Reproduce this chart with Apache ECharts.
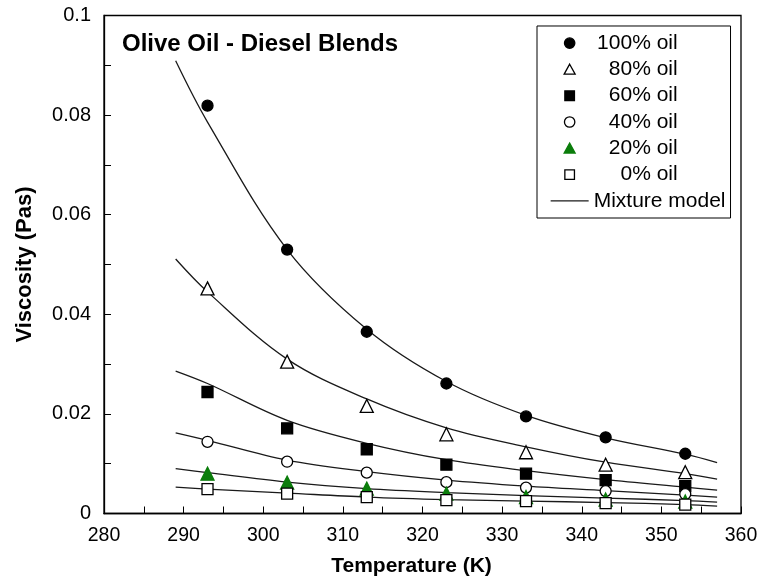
<!DOCTYPE html>
<html>
<head>
<meta charset="utf-8">
<script src="https://cdn.jsdelivr.net/npm/echarts@6/dist/echarts.min.js"></script>
<style>
  html, body { margin: 0; padding: 0; background: #fff; }
  #container { width: 764px; height: 581px; }
</style>
</head>
<body>
<div id="container"></div>
<script>
// measured points (K, Pa s)
var temps = [293, 303, 313, 323, 333, 343, 353];
var oil100 = [0.0819, 0.0530, 0.0365, 0.0261, 0.0195, 0.0153, 0.0120];
var oil80 = [0.0452, 0.0305, 0.0216, 0.0159, 0.0123, 0.0098, 0.0083];
var oil60 = [0.0244, 0.0171, 0.0129, 0.0098, 0.0080, 0.0067, 0.0055];
var oil40 = [0.0144, 0.0104, 0.0082, 0.0063, 0.0052, 0.0045, 0.0039];
var oil20 = [0.0080, 0.0062, 0.0050, 0.0040, 0.0033, 0.0028, 0.0024];
var oil0 = [0.0049, 0.0040, 0.0033, 0.0027, 0.0025, 0.0021, 0.0018];

// mixture model curves
var modelT = [289, 293, 303, 313, 323, 333, 343, 353, 357];
var model100 = [0.0909, 0.0786, 0.0530, 0.0370, 0.0265, 0.0197, 0.0152, 0.0119, 0.0102];
var model80 = [0.0511, 0.0445, 0.0310, 0.0230, 0.0172, 0.0134, 0.0103, 0.0080, 0.0069];
var model60 = [0.0286, 0.0261, 0.0187, 0.0141, 0.0108, 0.0086, 0.0068, 0.0053, 0.0047];
var model40 = [0.0162, 0.0147, 0.0107, 0.0084, 0.0067, 0.0055, 0.0046, 0.0037, 0.0033];
var model20 = [0.0090, 0.0082, 0.0063, 0.0050, 0.0042, 0.0036, 0.0031, 0.0026, 0.0023];
var model0 = [0.0053, 0.0049, 0.0041, 0.0033, 0.0028, 0.0025, 0.0022, 0.0018, 0.0015];

var xTicks = [280, 290, 300, 310, 320, 330, 340, 350, 360];
var yTicks = [0, 0.02, 0.04, 0.06, 0.08, 0.1];

var FONT = "'Liberation Sans', Arial, Helvetica, sans-serif";

function pairs(xs, ys) {
  return xs.map(function (x, i) { return [x, ys[i]]; });
}

// legend icons: padded to a 38x11 box so the small marks stay centred and unstretched
var PAD = "M0,0 M38,11 ";
var ICON = {
  circle: "path://" + PAD + "M13.8,5.5 A5.2,5.2 0 1 1 24.2,5.5 A5.2,5.2 0 1 1 13.8,5.5 Z",
  triangle: "path://" + PAD + "M19,0.3 L24.5,10.3 L13.5,10.3 Z",
  rect: "path://" + PAD + "M14.2,0.7 L23.8,0.7 L23.8,10.3 L14.2,10.3 Z",
  line: "path://" + PAD + "M0,4.9 L38,4.9 L38,6.1 L0,6.1 Z"
};

var oilSeries = [
  { name: "100% oil", data: oil100, symbol: "circle", size: 11, fill: "#000", stroke: "#000" },
  { name: "80% oil", data: oil80, symbol: "triangle", size: 13, fill: "#fff", stroke: "#000" },
  { name: "60% oil", data: oil60, symbol: "rect", size: 11, fill: "#000", stroke: "#000" },
  { name: "40% oil", data: oil40, symbol: "circle", size: 11, fill: "#fff", stroke: "#000" },
  { name: "20% oil", data: oil20, symbol: "triangle", size: 13, fill: "#0b7d0b", stroke: "#0b7d0b" },
  { name: "0% oil", data: oil0, symbol: "rect", size: 11, fill: "#fff", stroke: "#000" }
];
var models = [model100, model80, model60, model40, model20, model0];

var series = [];
models.forEach(function (m) {
  series.push({
    name: "Mixture model",
    type: "line",
    data: pairs(modelT, m),
    smooth: 0.35,
    symbol: "none",
    z: 2,
    lineStyle: { color: "#1a1a1a", width: 1.3 },
    itemStyle: { color: "#1a1a1a" }
  });
});
oilSeries.forEach(function (s) {
  series.push({
    name: s.name,
    type: "scatter",
    data: pairs(temps, s.data),
    symbol: s.symbol,
    symbolSize: s.size,
    z: 5,
    itemStyle: { color: s.fill, borderColor: s.stroke, borderWidth: 1.3, opacity: 1 }
  });
});

var legendData = oilSeries.map(function (s) {
  return {
    name: s.name,
    icon: ICON[s.symbol],
    itemStyle: { color: s.fill, borderColor: s.stroke, borderWidth: 1.3 }
  };
});
legendData.push({
  name: "Mixture model",
  icon: ICON.line,
  itemStyle: { color: "#1a1a1a", borderWidth: 0 }
});

var myChart = echarts.init(document.getElementById("container"), null, { renderer: "canvas" });
myChart.setOption({
  backgroundColor: "#fff",
  animation: false,
  textStyle: { fontFamily: FONT },
  title: {
    text: "Olive Oil - Diesel Blends",
    left: 117,
    top: 27,
    textStyle: { fontFamily: FONT, fontSize: 24, fontWeight: "bold", color: "#000" }
  },
  legend: {
    orient: "vertical",
    left: 537,
    top: 26,
    padding: [6.6, 5, 6.6, 13],
    itemWidth: 38,
    itemHeight: 11,
    itemGap: 5.3,
    borderColor: "#000",
    borderWidth: 1,
    data: legendData,
    formatter: function (name) {
      return name === "Mixture model" ? "{m|" + name + "}" : "{a|" + name + "}";
    },
    textStyle: {
      fontFamily: FONT,
      fontSize: 21,
      color: "#000",
      rich: {
        a: { fontFamily: FONT, fontSize: 21, width: 84, align: "right", lineHeight: 21 },
        m: { fontFamily: FONT, fontSize: 21, lineHeight: 21 }
      }
    }
  },
  grid: {
    left: 104,
    right: 23,
    top: 15.5,
    bottom: 67.5,
    show: true,
    borderColor: "#000",
    borderWidth: 1.3,
    outerBoundsMode: "none"
  },
  xAxis: {
    type: "value",
    min: xTicks[0],
    max: xTicks[xTicks.length - 1],
    interval: 10,
    name: "Temperature (K)",
    nameLocation: "middle",
    nameGap: 42,
    nameTextStyle: { fontFamily: FONT, fontSize: 21, fontWeight: "bold", color: "#000", padding: [0, 22, 0, 0] },
    axisLine: { show: true, lineStyle: { color: "#000", width: 1.3 } },
    axisTick: { show: true, inside: true, length: 7, lineStyle: { color: "#000", width: 1 } },
    minorTick: { show: true, splitNumber: 2, length: 7, lineStyle: { color: "#000", width: 1 } },
    splitLine: { show: false },
    axisLabel: { fontFamily: FONT, fontSize: 19.5, color: "#000", margin: 12 }
  },
  yAxis: {
    type: "value",
    min: yTicks[0],
    max: yTicks[yTicks.length - 1],
    interval: 0.02,
    name: "Viscosity (Pas)",
    nameLocation: "middle",
    nameGap: 68,
    nameRotate: 90,
    nameTextStyle: { fontFamily: FONT, fontSize: 22, fontWeight: "bold", color: "#000" },
    axisLine: { show: true, lineStyle: { color: "#000", width: 1.3 } },
    axisTick: { show: true, inside: true, length: 7, lineStyle: { color: "#000", width: 1 } },
    minorTick: { show: true, splitNumber: 2, length: 7, lineStyle: { color: "#000", width: 1 } },
    splitLine: { show: false },
    axisLabel: {
      fontFamily: FONT,
      fontSize: 20,
      color: "#000",
      margin: 13,
      formatter: function (v) { return String(Math.round(v * 100) / 100); }
    }
  },
  series: series
});
</script>
</body>
</html>
